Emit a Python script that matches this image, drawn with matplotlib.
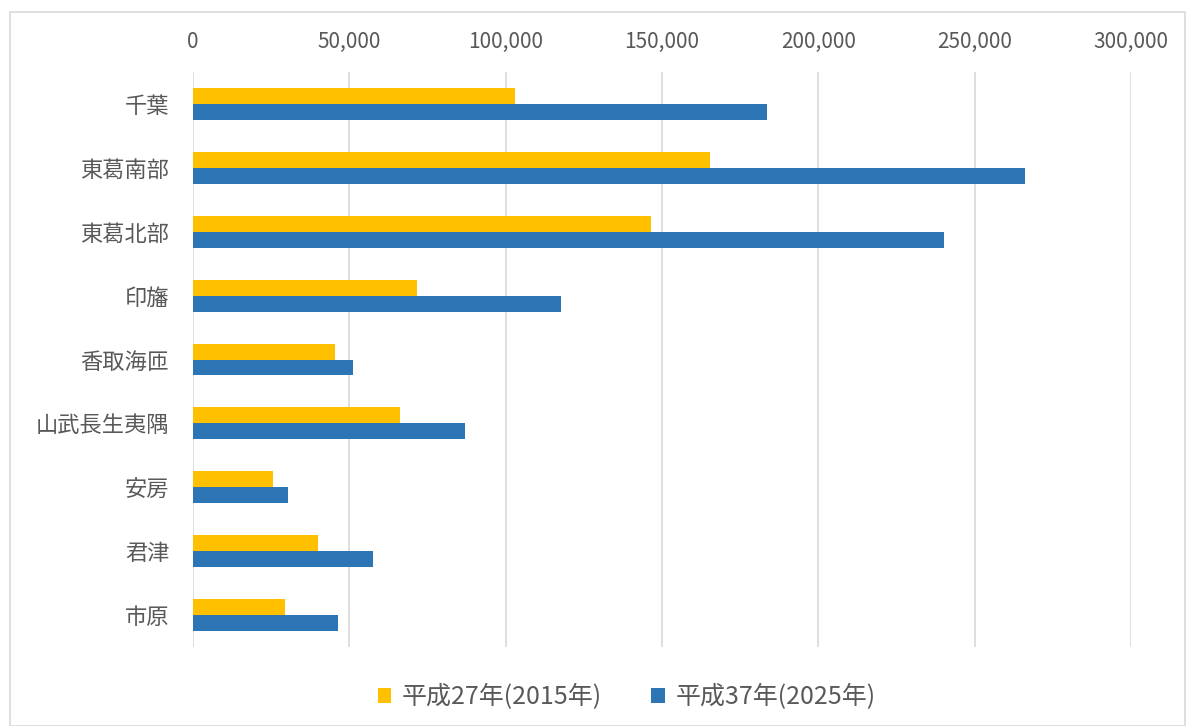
import numpy as np
import matplotlib
matplotlib.use('Agg')
import matplotlib.pyplot as plt
from matplotlib.patches import Rectangle
from matplotlib.ticker import FuncFormatter

plt.rcParams['font.family'] = ['Noto Sans CJK JP', 'DejaVu Sans']

regiones = ['千葉', '東葛南部', '東葛北部', '印旛', '香取海匝', '山武長生夷隅', '安房', '君津', '市原']
h27 = [103000, 165500, 146500, 71700, 45400, 66200, 25600, 40000, 29400]
h37 = [183600, 266100, 240200, 117700, 51200, 87000, 30400, 57600, 46400]
ticks = [0, 50000, 100000, 150000, 200000, 250000, 300000]

gris = '#595959'
fig = plt.figure(figsize=(11.91, 7.26), dpi=100)
ax = fig.add_axes([0.162, 0.1088, 0.7876, 0.792])

y = np.arange(len(regiones))
alto = 0.25
ax.barh(y - alto / 2, h27, height=alto, color='#FFC000', label='平成27年(2015年)', zorder=3)
ax.barh(y + alto / 2, h37, height=alto, color='#2E75B6', label='平成37年(2025年)', zorder=3)

ax.set_ylim(len(regiones) - 0.5, -0.5)
ax.set_yticks(y)
ax.set_yticklabels(regiones, fontsize=16, color=gris)
ax.set_xlim(0, 300000)
ax.set_xticks(ticks)
ax.xaxis.set_major_formatter(FuncFormatter(lambda v, p: format(int(v), ',')))
ax.xaxis.tick_top()
ax.tick_params(axis='x', labelsize=15, colors=gris, length=0, pad=14)
ax.tick_params(axis='y', length=0, pad=17)
ax.grid(axis='x', color='#D9D9D9', linewidth=1.2, zorder=0)
for s in ax.spines.values():
    s.set_visible(False)

fig.legend(loc='center', bbox_to_anchor=(0.526, 0.04), ncol=2, frameon=False,
           fontsize=18, handlelength=0.55, handleheight=0.55, columnspacing=2.0,
           handletextpad=0.4, labelcolor=gris)

fig.patches.append(Rectangle((10 / 1191, 0.0), 1175 / 1191, 1 - 12 / 726,
                             transform=fig.transFigure, fill=False,
                             edgecolor='#D9D9D9', linewidth=1.2))

fig.savefig('out.png', dpi=100)
